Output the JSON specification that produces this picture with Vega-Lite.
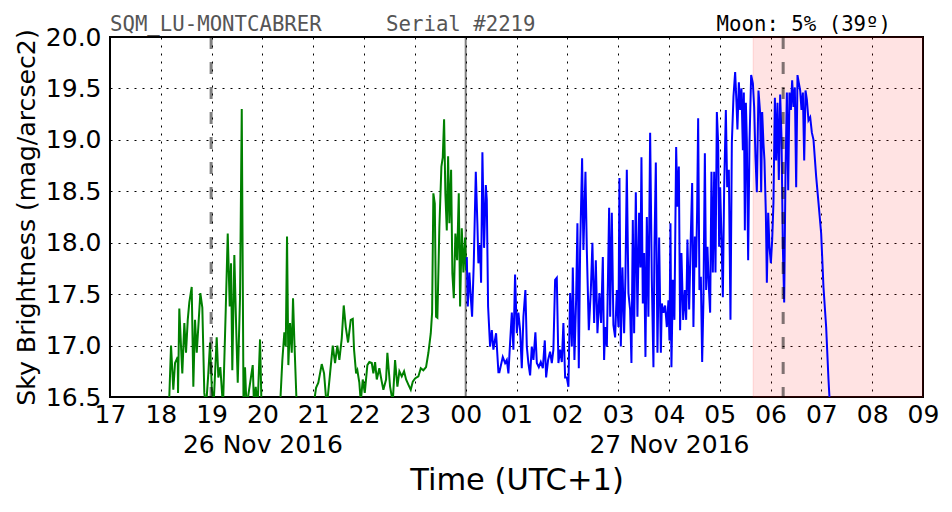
{
  "$schema": "https://vega.github.io/schema/vega-lite/v6.json",
  "width": 813,
  "height": 360,
  "autosize": {"type": "none"},
  "padding": {"left": 110, "top": 37, "right": 29, "bottom": 115},
  "background": "white",
  "config": {
    "font": "DejaVu Sans",
    "view": {"stroke": "black", "strokeWidth": 2},
    "axis": {
      "grid": true, "gridColor": "black", "gridDash": [2, 6], "gridWidth": 1, "gridOpacity": 1,
      "domain": false, "ticks": false, "labelColor": "black", "titleColor": "black",
      "titleFontWeight": "normal", "labelFontSize": 25, "labelOverlap": false, "labelFlush": false
    }
  },
  "datasets": {
    "dusk": [
      {"h":18.16,"m":16.4},{"h":18.201,"m":17.0},{"h":18.246,"m":16.57},{"h":18.28,"m":16.83},{"h":18.333,"m":16.89},{"h":18.339,"m":16.54},{"h":18.364,"m":17.36},{"h":18.398,"m":16.99},{"h":18.423,"m":16.73},{"h":18.463,"m":17.22},{"h":18.496,"m":16.93},{"h":18.53,"m":17.25},{"h":18.561,"m":17.42},{"h":18.608,"m":17.57},{"h":18.64,"m":16.6},{"h":18.673,"m":17.25},{"h":18.707,"m":16.93},{"h":18.738,"m":17.18},{"h":18.778,"m":17.51},{"h":18.817,"m":17.37},{"h":18.856,"m":16.54},{"h":18.89,"m":16.4},{"h":18.935,"m":16.73},{"h":18.969,"m":17.03},{"h":19.002,"m":16.6},{"h":19.037,"m":16.4},{"h":19.1,"m":17.08},{"h":19.132,"m":16.69},{"h":19.171,"m":16.79},{"h":19.224,"m":16.4},{"h":19.278,"m":17.35},{"h":19.317,"m":18.09},{"h":19.356,"m":17.38},{"h":19.382,"m":17.8},{"h":19.407,"m":16.76},{"h":19.447,"m":17.88},{"h":19.486,"m":17.12},{"h":19.514,"m":16.64},{"h":19.559,"m":17.47},{"h":19.593,"m":19.3},{"h":19.628,"m":16.4},{"h":19.657,"m":16.79},{"h":19.687,"m":16.4},{"h":19.809,"m":16.81},{"h":19.835,"m":16.4},{"h":19.868,"m":16.6},{"h":19.904,"m":16.4},{"h":19.953,"m":17.06},{"h":19.982,"m":16.4},
      {"h":20.346,"m":16.4},{"h":20.392,"m":16.86},{"h":20.431,"m":17.13},{"h":20.459,"m":16.99},{"h":20.484,"m":18.06},{"h":20.51,"m":16.81},{"h":20.543,"m":17.22},{"h":20.577,"m":16.93},{"h":20.602,"m":17.46},{"h":20.628,"m":17.05},{"h":20.675,"m":16.4},
      {"h":21.002,"m":16.4},{"h":21.055,"m":16.59},{"h":21.1,"m":16.64},{"h":21.167,"m":16.82},{"h":21.213,"m":16.73},{"h":21.266,"m":16.4},{"h":21.331,"m":16.73},{"h":21.384,"m":17.0},{"h":21.429,"m":16.83},{"h":21.474,"m":17.0},{"h":21.514,"m":16.86},{"h":21.561,"m":17.07},{"h":21.6,"m":17.39},{"h":21.64,"m":17.18},{"h":21.685,"m":17.03},{"h":21.738,"m":17.25},{"h":21.778,"m":17.26},{"h":21.803,"m":16.96},{"h":21.843,"m":16.73},{"h":21.868,"m":16.76},{"h":21.907,"m":16.64},{"h":21.935,"m":16.45},{"h":21.974,"m":16.67},{"h":22.014,"m":16.54},{"h":22.065,"m":16.81},{"h":22.104,"m":16.84},{"h":22.152,"m":16.83},{"h":22.183,"m":16.73},{"h":22.217,"m":16.84},{"h":22.25,"m":16.67},{"h":22.301,"m":16.78},{"h":22.348,"m":16.65},{"h":22.38,"m":16.57},{"h":22.433,"m":16.67},{"h":22.459,"m":16.93},{"h":22.512,"m":16.6},{"h":22.565,"m":16.45},{"h":22.61,"m":16.86},{"h":22.656,"m":16.6},{"h":22.695,"m":16.75},{"h":22.742,"m":16.7},{"h":22.787,"m":16.75},{"h":22.827,"m":16.67},{"h":22.872,"m":16.62},{"h":22.919,"m":16.57},{"h":22.959,"m":16.65},{"h":23.004,"m":16.68},{"h":23.069,"m":16.7},{"h":23.116,"m":16.78},{"h":23.167,"m":16.76},{"h":23.22,"m":16.79},{"h":23.266,"m":16.93},{"h":23.313,"m":17.12},{"h":23.339,"m":17.32},{"h":23.364,"m":18.48},{"h":23.392,"m":18.38},{"h":23.417,"m":17.28},{"h":23.443,"m":17.27},{"h":23.482,"m":18.15},{"h":23.522,"m":18.74},{"h":23.549,"m":18.83},{"h":23.575,"m":19.2},{"h":23.6,"m":18.48},{"h":23.628,"m":18.12},{"h":23.654,"m":18.84},{"h":23.679,"m":18.19},{"h":23.713,"m":18.71},{"h":23.738,"m":17.7},{"h":23.766,"m":17.46},{"h":23.797,"m":18.09},{"h":23.831,"m":17.83},{"h":23.864,"m":18.48},{"h":23.89,"m":17.38},{"h":23.923,"m":18.14},{"h":23.955,"m":17.71},{"h":23.988,"m":18.05},{"h":24.008,"m":17.73}
    ],
    "dawn": [
      {"h":24.022,"m":17.86},{"h":24.041,"m":17.38},{"h":24.073,"m":17.71},{"h":24.1,"m":17.47},{"h":24.126,"m":17.28},{"h":24.159,"m":17.8},{"h":24.199,"m":18.69},{"h":24.23,"m":18.19},{"h":24.25,"m":17.8},{"h":24.283,"m":17.98},{"h":24.303,"m":17.61},{"h":24.329,"m":18.88},{"h":24.362,"m":17.95},{"h":24.396,"m":18.56},{"h":24.415,"m":18.42},{"h":24.441,"m":17.38},{"h":24.48,"m":16.99},{"h":24.514,"m":17.15},{"h":24.545,"m":16.96},{"h":24.598,"m":17.12},{"h":24.644,"m":16.74},{"h":24.663,"m":16.74},{"h":24.73,"m":16.89},{"h":24.776,"m":16.83},{"h":24.809,"m":16.86},{"h":24.841,"m":16.73},{"h":24.874,"m":17.03},{"h":24.908,"m":17.32},{"h":24.939,"m":16.96},{"h":24.972,"m":17.69},{"h":25.006,"m":17.12},{"h":25.037,"m":17.32},{"h":25.071,"m":17.15},{"h":25.104,"m":16.78},{"h":25.136,"m":17.28},{"h":25.175,"m":17.54},{"h":25.203,"m":16.99},{"h":25.234,"m":16.83},{"h":25.268,"m":16.71},{"h":25.301,"m":16.99},{"h":25.333,"m":16.86},{"h":25.372,"m":17.13},{"h":25.4,"m":16.83},{"h":25.439,"m":16.79},{"h":25.478,"m":16.84},{"h":25.518,"m":16.78},{"h":25.557,"m":17.05},{"h":25.583,"m":16.69},{"h":25.622,"m":16.86},{"h":25.661,"m":16.94},{"h":25.695,"m":16.83},{"h":25.726,"m":16.96},{"h":25.76,"m":17.64},{"h":25.793,"m":17.66},{"h":25.825,"m":16.83},{"h":25.858,"m":16.96},{"h":25.892,"m":16.84},{"h":25.923,"m":17.22},{"h":25.957,"m":16.69},{"h":25.99,"m":16.69},{"h":26.022,"m":16.6},{"h":26.055,"m":17.51},{"h":26.089,"m":16.99},{"h":26.108,"m":17.76},{"h":26.14,"m":16.86},{"h":26.173,"m":17.44},{"h":26.199,"m":18.19},{"h":26.226,"m":16.78},{"h":26.252,"m":17.93},{"h":26.291,"m":18.82},{"h":26.317,"m":17.93},{"h":26.357,"m":18.69},{"h":26.384,"m":17.93},{"h":26.423,"m":17.15},{"h":26.463,"m":17.54},{"h":26.494,"m":18.0},{"h":26.528,"m":17.22},{"h":26.561,"m":17.83},{"h":26.593,"m":17.12},{"h":26.632,"m":17.51},{"h":26.665,"m":17.22},{"h":26.699,"m":17.86},{"h":26.724,"m":16.86},{"h":26.744,"m":17.18},{"h":26.778,"m":16.99},{"h":26.823,"m":18.34},{"h":26.843,"m":17.28},{"h":26.876,"m":18.29},{"h":26.907,"m":17.2},{"h":26.941,"m":17.08},{"h":26.974,"m":17.54},{"h":27.006,"m":17.18},{"h":27.026,"m":18.63},{"h":27.053,"m":16.99},{"h":27.085,"m":17.76},{"h":27.118,"m":17.12},{"h":27.144,"m":17.67},{"h":27.171,"m":18.71},{"h":27.203,"m":17.51},{"h":27.236,"m":17.35},{"h":27.262,"m":16.83},{"h":27.289,"m":18.22},{"h":27.315,"m":17.12},{"h":27.348,"m":18.49},{"h":27.38,"m":17.28},{"h":27.413,"m":18.29},{"h":27.439,"m":17.76},{"h":27.459,"m":18.83},{"h":27.486,"m":17.41},{"h":27.512,"m":17.9},{"h":27.538,"m":16.89},{"h":27.565,"m":18.25},{"h":27.596,"m":17.28},{"h":27.63,"m":19.07},{"h":27.663,"m":17.64},{"h":27.695,"m":16.79},{"h":27.715,"m":17.96},{"h":27.742,"m":18.78},{"h":27.774,"m":16.93},{"h":27.807,"m":18.05},{"h":27.841,"m":16.93},{"h":27.86,"m":17.41},{"h":27.892,"m":17.32},{"h":27.925,"m":17.39},{"h":27.959,"m":17.18},{"h":27.99,"m":17.44},{"h":28.01,"m":17.05},{"h":28.03,"m":18.19},{"h":28.049,"m":16.79},{"h":28.077,"m":17.64},{"h":28.108,"m":17.25},{"h":28.142,"m":18.93},{"h":28.168,"m":18.35},{"h":28.195,"m":18.74},{"h":28.22,"m":17.15},{"h":28.246,"m":17.9},{"h":28.28,"m":17.25},{"h":28.313,"m":17.54},{"h":28.339,"m":17.25},{"h":28.364,"m":18.03},{"h":28.398,"m":17.35},{"h":28.431,"m":18.08},{"h":28.457,"m":18.58},{"h":28.482,"m":17.18},{"h":28.51,"m":18.06},{"h":28.535,"m":17.76},{"h":28.555,"m":18.32},{"h":28.575,"m":19.21},{"h":28.6,"m":17.54},{"h":28.628,"m":17.67},{"h":28.654,"m":16.84},{"h":28.679,"m":17.44},{"h":28.707,"m":18.87},{"h":28.732,"m":17.54},{"h":28.758,"m":17.96},{"h":28.785,"m":17.57},{"h":28.811,"m":17.32},{"h":28.837,"m":18.69},{"h":28.864,"m":17.71},{"h":28.89,"m":18.69},{"h":28.916,"m":17.71},{"h":28.943,"m":19.27},{"h":28.969,"m":18.97},{"h":28.988,"m":17.96},{"h":29.008,"m":18.54},{"h":29.034,"m":18.06},{"h":29.061,"m":17.47},{"h":29.087,"m":18.54},{"h":29.12,"m":19.29},{"h":29.146,"m":18.54},{"h":29.179,"m":18.71},{"h":29.211,"m":17.25},{"h":29.238,"m":18.97},{"h":29.27,"m":19.42},{"h":29.303,"m":19.66},{"h":29.329,"m":19.36},{"h":29.348,"m":19.1},{"h":29.376,"m":19.56},{"h":29.402,"m":19.29},{"h":29.427,"m":19.5},{"h":29.455,"m":18.9},{"h":29.474,"m":19.46},{"h":29.494,"m":18.12},{"h":29.514,"m":19.36},{"h":29.533,"m":19.0},{"h":29.559,"m":17.83},{"h":29.585,"m":18.97},{"h":29.618,"m":19.63},{"h":29.652,"m":19.55},{"h":29.677,"m":19.32},{"h":29.703,"m":18.83},{"h":29.73,"m":18.49},{"h":29.762,"m":19.48},{"h":29.795,"m":19.26},{"h":29.815,"m":18.49},{"h":29.835,"m":19.27},{"h":29.86,"m":18.97},{"h":29.88,"m":18.8},{"h":29.907,"m":18.29},{"h":29.927,"m":17.61},{"h":29.953,"m":18.29},{"h":29.978,"m":17.96},{"h":30.006,"m":17.8},{"h":30.032,"m":18.03},{"h":30.057,"m":18.39},{"h":30.085,"m":19.41},{"h":30.11,"m":18.8},{"h":30.136,"m":19.36},{"h":30.163,"m":18.61},{"h":30.189,"m":19.44},{"h":30.215,"m":19.03},{"h":30.242,"m":17.96},{"h":30.268,"m":17.42},{"h":30.293,"m":18.64},{"h":30.321,"m":19.46},{"h":30.347,"m":18.51},{"h":30.372,"m":19.46},{"h":30.4,"m":19.29},{"h":30.425,"m":19.58},{"h":30.451,"m":19.32},{"h":30.478,"m":19.51},{"h":30.504,"m":18.54},{"h":30.53,"m":19.63},{"h":30.557,"m":19.55},{"h":30.583,"m":19.48},{"h":30.609,"m":19.29},{"h":30.636,"m":19.46},{"h":30.662,"m":18.8},{"h":30.688,"m":19.48},{"h":30.715,"m":19.39},{"h":30.746,"m":19.19},{"h":30.78,"m":19.22},{"h":30.813,"m":19.07},{"h":30.845,"m":19.0},{"h":30.898,"m":18.64},{"h":30.943,"m":18.39},{"h":30.996,"m":18.09},{"h":31.041,"m":17.57},{"h":31.094,"m":17.18},{"h":31.14,"m":16.67},{"h":31.159,"m":16.5},{"h":31.193,"m":16.3}
    ],
    "span": [{"start": 29.657, "end": 33}],
    "dashed": [{"t": 18.99}, {"t": 30.248}],
    "midnight": [{"t": 24}],
    "notes": [
      {"t": 17, "v": 20, "label": "SQM_LU-MONTCABRER", "side": "left"},
      {"t": 22.433, "v": 20, "label": "Serial #2219", "side": "left"},
      {"t": 32.37, "v": 20, "label": "Moon: 5% (39º)", "side": "right"}
    ]
  },
  "encoding": {
    "x": {
      "field": "h", "type": "quantitative",
      "scale": {"domain": [17, 33], "nice": false, "zero": false},
      "axis": {
        "values": [17,18,19,20,21,22,23,24,25,26,27,28,29,30,31,32,33],
        "labelExpr": "datum.value == 20 ? ['20', '26 Nov 2016'] : datum.value == 28 ? ['04', '27 Nov 2016'] : (((datum.value % 24) < 10) ? '0' : '') + (datum.value % 24)",
        "labelLineHeight": 30, "labelPadding": 5,
        "title": "Time (UTC+1)", "titleFontSize": 30.5, "titlePadding": 8
      }
    },
    "y": {
      "field": "m", "type": "quantitative",
      "scale": {"domain": [16.5, 20], "nice": false, "zero": false},
      "axis": {
        "values": [16.5,17,17.5,18,18.5,19,19.5,20], "format": ".1f",
        "labelPadding": 9,
        "title": "Sky Brightness (mag/arcsec2)", "titleFontSize": 25.2, "titlePadding": 6
      }
    }
  },
  "layer": [
    {
      "data": {"name": "span"},
      "mark": {"type": "rect", "fill": "#ff0000", "fillOpacity": 0.11, "stroke": "#ff0000", "strokeOpacity": 0.12, "strokeWidth": 1},
      "encoding": {"x": {"field": "start", "type": "quantitative"}, "x2": {"field": "end"}, "y": null}
    },
    {
      "data": {"name": "midnight"},
      "mark": {"type": "rule", "color": "#000000", "opacity": 0.5, "strokeWidth": 2},
      "encoding": {"x": {"field": "t", "type": "quantitative"}, "y": null}
    },
    {
      "data": {"name": "dusk"},
      "mark": {"type": "line", "color": "#008000", "strokeWidth": 2, "clip": true, "interpolate": "linear"},
      "encoding": {}
    },
    {
      "data": {"name": "dawn"},
      "mark": {"type": "line", "color": "#0000ff", "strokeWidth": 2, "clip": true, "interpolate": "linear"},
      "encoding": {}
    },
    {
      "data": {"name": "dashed"},
      "mark": {"type": "rule", "color": "#000000", "opacity": 0.5, "strokeWidth": 3, "strokeDash": [12, 13]},
      "encoding": {"x": {"field": "t", "type": "quantitative"}, "y": null}
    },
    {
      "data": {"name": "notes"},
      "transform": [{"filter": "datum.side == 'left'"}],
      "mark": {"type": "text", "font": "DejaVu Sans Mono", "fontSize": 20.7, "baseline": "alphabetic", "align": "left", "dy": -6, "color": "#555555"},
      "encoding": {
        "x": {"field": "t", "type": "quantitative"},
        "y": {"field": "v", "type": "quantitative"},
        "text": {"field": "label", "type": "nominal"}
      }
    },
    {
      "data": {"name": "notes"},
      "transform": [{"filter": "datum.side == 'right'"}],
      "mark": {"type": "text", "font": "DejaVu Sans Mono", "fontSize": 20.7, "baseline": "alphabetic", "align": "right", "dy": -6, "color": "#000000"},
      "encoding": {
        "x": {"field": "t", "type": "quantitative"},
        "y": {"field": "v", "type": "quantitative"},
        "text": {"field": "label", "type": "nominal"}
      }
    }
  ]
}
